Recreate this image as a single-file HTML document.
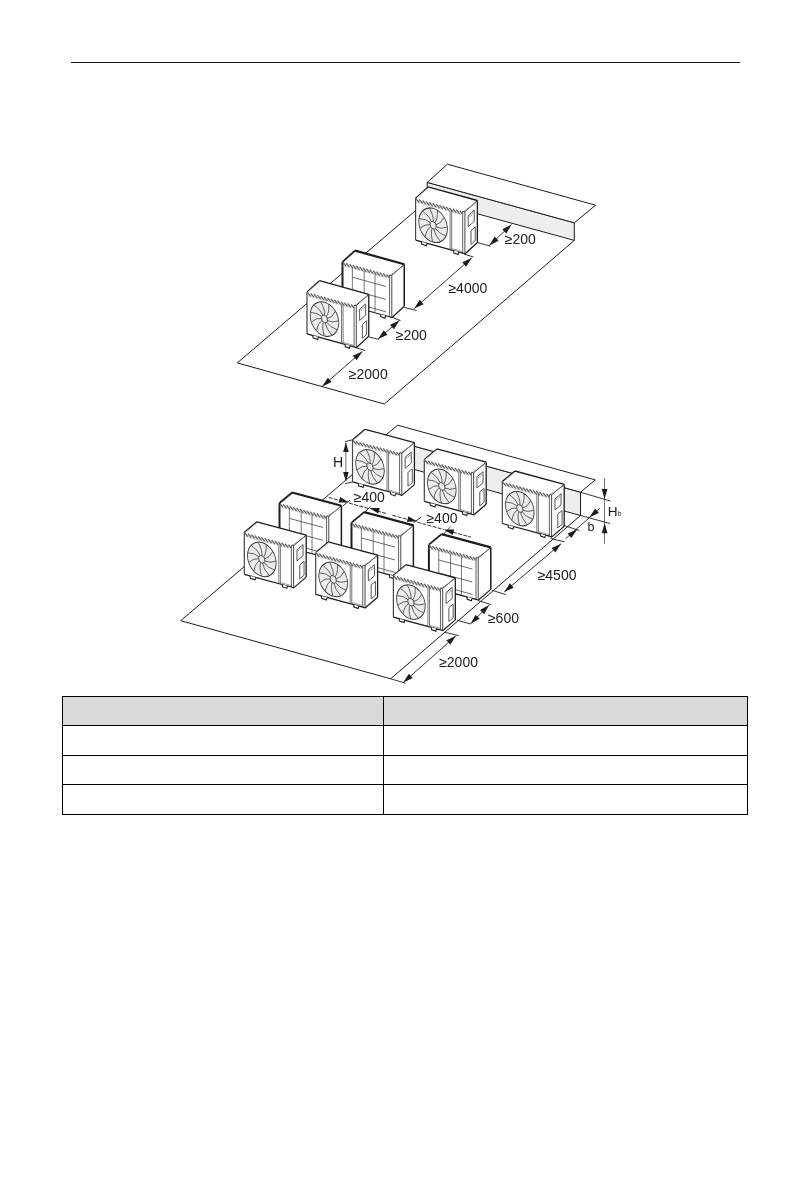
<!DOCTYPE html>
<html><head><meta charset="utf-8">
<style>
html,body{margin:0;padding:0;background:#fff;}
body{width:811px;height:1191px;position:relative;overflow:hidden;font-family:"Liberation Sans",sans-serif;}
.hr{position:absolute;left:71px;top:62px;width:669px;height:1px;background:#111;}
svg{position:absolute;left:0;top:0;will-change:transform;}
table{position:absolute;left:62px;top:696px;border-collapse:collapse;}
td{border:1.3px solid #000;padding:0;height:28px;}
</style></head><body>
<div class="hr"></div>
<svg width="811" height="1191" viewBox="0 0 811 1191" font-family="Liberation Sans, sans-serif">
<polygon points="427.2,182.4 574.3,222.8 574.3,240.4 427.2,200" fill="#eeeeee" stroke="#1c1c1c" stroke-width="1.0" stroke-linejoin="round" />
<polygon points="427.2,182.4 447.4,164.2 595.6,205.2 574.3,222.8" fill="#fff" stroke="#1c1c1c" stroke-width="1.0" stroke-linejoin="round" />
<polyline points="427.2,200.7 237.3,362.9 384.3,404 574.3,240.4" fill="none" stroke="#1c1c1c" stroke-width="1.0" stroke-linejoin="round" />
<polygon points="415.6,240.1 415.6,198.1 428.05,186.9 477.35,200.5 477.35,242.5 464.9,253.7" fill="#fff" stroke="none" stroke-width="0" stroke-linejoin="round" />
<line x1="418.08" y1="197.32" x2="428.41" y2="188.02" stroke="#aaa" stroke-width="0.8" stroke-dasharray="0.8 0.7"/>
<polyline points="415.6,198.1 428.05,186.9" fill="none" stroke="#1c1c1c" stroke-width="1.15" stroke-linejoin="round" />
<polyline points="428.05,186.9 477.35,200.5" fill="none" stroke="#1c1c1c" stroke-width="1.35" stroke-linejoin="round" />
<polyline points="477.35,200.5 477.35,242.5" fill="none" stroke="#1c1c1c" stroke-width="1.3" stroke-linejoin="round" />
<line x1="415.6" y1="198.1" x2="415.6" y2="240.1" stroke="#444" stroke-width="1.2" />
<polyline points="462.68,211.39 464.9,211.7 477.35,200.5" fill="none" stroke="#333" stroke-width="1.0" stroke-linejoin="round" />
<line x1="462.19" y1="212.25" x2="476.73" y2="201.96" stroke="#888" stroke-width="0.7" />
<line x1="462.68" y1="211.39" x2="462.68" y2="253.09" stroke="#444" stroke-width="0.85" />
<line x1="464.9" y1="211.7" x2="464.9" y2="253.7" stroke="#333" stroke-width="0.9" />
<polyline points="415.6,240.1 462.68,253.09 464.9,254 477.35,242.5" fill="none" stroke="#1c1c1c" stroke-width="1.2" stroke-linejoin="round" />
<line x1="415.94" y1="198.59" x2="419.34" y2="202.73" stroke="#666" stroke-width="1.4" />
<line x1="419.3" y1="199.52" x2="422.7" y2="203.66" stroke="#666" stroke-width="1.4" />
<line x1="422.66" y1="200.45" x2="426.06" y2="204.59" stroke="#666" stroke-width="1.4" />
<line x1="426.03" y1="201.38" x2="429.43" y2="205.51" stroke="#666" stroke-width="1.4" />
<line x1="429.39" y1="202.3" x2="432.79" y2="206.44" stroke="#666" stroke-width="1.4" />
<line x1="432.75" y1="203.23" x2="436.15" y2="207.37" stroke="#666" stroke-width="1.4" />
<line x1="436.11" y1="204.16" x2="439.51" y2="208.3" stroke="#666" stroke-width="1.4" />
<line x1="439.48" y1="205.09" x2="442.88" y2="209.22" stroke="#666" stroke-width="1.4" />
<line x1="442.84" y1="206.01" x2="446.24" y2="210.15" stroke="#666" stroke-width="1.4" />
<line x1="446.2" y1="206.94" x2="449.6" y2="211.08" stroke="#666" stroke-width="1.4" />
<line x1="449.57" y1="207.87" x2="452.97" y2="212.01" stroke="#666" stroke-width="1.4" />
<line x1="452.93" y1="208.8" x2="456.33" y2="212.94" stroke="#666" stroke-width="1.4" />
<line x1="456.29" y1="209.73" x2="459.69" y2="213.86" stroke="#666" stroke-width="1.4" />
<line x1="459.65" y1="210.65" x2="462.68" y2="214.34" stroke="#666" stroke-width="1.4" />
<line x1="415.6" y1="201.9" x2="462.68" y2="214.89" stroke="#bbb" stroke-width="0.5" />
<line x1="450.11" y1="210.62" x2="450.11" y2="249.62" stroke="#555" stroke-width="0.8" />
<line x1="451.69" y1="211.06" x2="451.69" y2="250.06" stroke="#555" stroke-width="0.8" />
<line x1="451.69" y1="248.56" x2="462.68" y2="251.59" stroke="#777" stroke-width="0.7" />
<g transform="matrix(1,0.2759,0,1.18,433.1,225.23)"><circle r="14.3" fill="#ececec" stroke="#3a3a3a" stroke-width="0.85"/><path d="M3.04,0.62 Q7.81,1.75 14,-1.69" fill="none" stroke="#444" stroke-width="0.72"/><path d="M2.22,2.16 Q5.62,5.69 12.69,6.15" fill="none" stroke="#444" stroke-width="0.72"/><path d="M0.7,3.02 Q1.66,7.83 7.35,12.03" fill="none" stroke="#444" stroke-width="0.72"/><path d="M-1.04,2.92 Q-2.84,7.48 -0.32,14.1" fill="none" stroke="#444" stroke-width="0.72"/><path d="M-2.46,1.89 Q-6.43,4.76 -7.89,11.68" fill="none" stroke="#444" stroke-width="0.72"/><path d="M-3.09,0.27 Q-7.98,0.52 -12.96,5.56" fill="none" stroke="#444" stroke-width="0.72"/><path d="M-2.74,-1.45 Q-7,-3.87 -13.91,-2.32" fill="none" stroke="#444" stroke-width="0.72"/><path d="M-1.52,-2.7 Q-3.79,-7.04 -10.44,-9.47" fill="none" stroke="#444" stroke-width="0.72"/><path d="M0.18,-3.09 Q0.62,-7.98 -3.66,-13.62" fill="none" stroke="#444" stroke-width="0.72"/><path d="M1.82,-2.51 Q4.83,-6.38 4.28,-13.43" fill="none" stroke="#444" stroke-width="0.72"/><path d="M2.89,-1.12 Q7.51,-2.75 10.86,-8.99" fill="none" stroke="#444" stroke-width="0.72"/><circle r="3.1" fill="#ececec" stroke="#3a3a3a" stroke-width="0.8"/></g>
<polygon points="468.2,215.63 474.24,210.2 474.24,221.3 468.2,226.73" fill="none" stroke="#444" stroke-width="0.9" stroke-linejoin="round" />
<line x1="469.38" y1="215.47" x2="470.13" y2="217" stroke="#666" stroke-width="0.7" />
<line x1="470.88" y1="214.12" x2="471.62" y2="215.65" stroke="#666" stroke-width="0.7" />
<line x1="472.37" y1="212.78" x2="473.12" y2="214.31" stroke="#666" stroke-width="0.7" />
<polygon points="471,230.61 475.23,226.8 475.23,240.7 471,244.51" fill="none" stroke="#444" stroke-width="0.9" stroke-linejoin="round" />
<polyline points="421.27,241.66 421.67,244.06 426.29,245.7 426.69,244.2 427.19,243.3" fill="#fff" stroke="#1c1c1c" stroke-width="1.1" stroke-linejoin="miter"/>
<polyline points="453.56,250.57 453.96,252.97 458.08,254.47 458.48,252.97 458.98,252.07" fill="#fff" stroke="#1c1c1c" stroke-width="1.1" stroke-linejoin="miter"/>
<polygon points="342.5,303.8 342.5,261.8 354.95,250.6 404.25,264.2 404.25,306.2 391.8,317.4" fill="#fff" stroke="none" stroke-width="0" stroke-linejoin="round" />
<line x1="344.98" y1="261.02" x2="355.31" y2="251.72" stroke="#aaa" stroke-width="0.8" stroke-dasharray="0.8 0.7"/>
<polyline points="342.5,261.8 354.95,250.6" fill="none" stroke="#1c1c1c" stroke-width="1.7" stroke-linejoin="round" />
<polyline points="354.95,250.6 404.25,264.2" fill="none" stroke="#1c1c1c" stroke-width="2.2" stroke-linejoin="round" />
<polyline points="404.25,264.2 404.25,306.2" fill="none" stroke="#1c1c1c" stroke-width="1.5" stroke-linejoin="round" />
<line x1="342.5" y1="261.8" x2="342.5" y2="303.8" stroke="#1c1c1c" stroke-width="2.0" />
<polyline points="389.58,275.09 391.8,275.4 404.25,264.2" fill="none" stroke="#333" stroke-width="1.0" stroke-linejoin="round" />
<line x1="389.09" y1="275.95" x2="403.63" y2="265.66" stroke="#888" stroke-width="0.7" />
<line x1="389.58" y1="275.09" x2="389.58" y2="316.79" stroke="#444" stroke-width="0.85" />
<line x1="391.8" y1="275.4" x2="391.8" y2="317.4" stroke="#333" stroke-width="0.9" />
<polyline points="342.5,303.8 389.58,316.79 391.8,317.7 404.25,306.2" fill="none" stroke="#1c1c1c" stroke-width="1.2" stroke-linejoin="round" />
<line x1="342.84" y1="262.29" x2="346.24" y2="266.43" stroke="#666" stroke-width="1.4" />
<line x1="346.2" y1="263.22" x2="349.6" y2="267.36" stroke="#666" stroke-width="1.4" />
<line x1="349.56" y1="264.15" x2="352.96" y2="268.29" stroke="#666" stroke-width="1.4" />
<line x1="352.93" y1="265.08" x2="356.33" y2="269.21" stroke="#666" stroke-width="1.4" />
<line x1="356.29" y1="266" x2="359.69" y2="270.14" stroke="#666" stroke-width="1.4" />
<line x1="359.65" y1="266.93" x2="363.05" y2="271.07" stroke="#666" stroke-width="1.4" />
<line x1="363.01" y1="267.86" x2="366.41" y2="272" stroke="#666" stroke-width="1.4" />
<line x1="366.38" y1="268.79" x2="369.78" y2="272.92" stroke="#666" stroke-width="1.4" />
<line x1="369.74" y1="269.71" x2="373.14" y2="273.85" stroke="#666" stroke-width="1.4" />
<line x1="373.1" y1="270.64" x2="376.5" y2="274.78" stroke="#666" stroke-width="1.4" />
<line x1="376.47" y1="271.57" x2="379.87" y2="275.71" stroke="#666" stroke-width="1.4" />
<line x1="379.83" y1="272.5" x2="383.23" y2="276.64" stroke="#666" stroke-width="1.4" />
<line x1="383.19" y1="273.43" x2="386.59" y2="277.56" stroke="#666" stroke-width="1.4" />
<line x1="386.55" y1="274.35" x2="389.58" y2="278.04" stroke="#666" stroke-width="1.4" />
<line x1="342.5" y1="265.6" x2="389.58" y2="278.59" stroke="#bbb" stroke-width="0.5" />
<line x1="352.36" y1="267.52" x2="352.36" y2="306.52" stroke="#555" stroke-width="0.8" />
<line x1="364.19" y1="270.78" x2="364.19" y2="309.78" stroke="#555" stroke-width="0.8" />
<line x1="375.04" y1="273.78" x2="375.04" y2="312.78" stroke="#555" stroke-width="0.8" />
<line x1="352.36" y1="277.22" x2="385.88" y2="286.47" stroke="#444" stroke-width="0.8" />
<line x1="352.36" y1="290.12" x2="385.88" y2="299.37" stroke="#444" stroke-width="0.8" />
<line x1="352.36" y1="302.52" x2="385.88" y2="311.77" stroke="#444" stroke-width="0.8" />
<polyline points="348.17,305.36 348.57,307.76 353.19,309.4 353.59,307.9 354.09,307" fill="#fff" stroke="#1c1c1c" stroke-width="1.1" stroke-linejoin="miter"/>
<polyline points="380.46,314.27 380.86,316.67 384.98,318.17 385.38,316.67 385.88,315.77" fill="#fff" stroke="#1c1c1c" stroke-width="1.1" stroke-linejoin="miter"/>
<polygon points="307,333.9 307,291.9 319.45,280.7 368.75,294.3 368.75,336.3 356.3,347.5" fill="#fff" stroke="none" stroke-width="0" stroke-linejoin="round" />
<line x1="309.48" y1="291.12" x2="319.81" y2="281.82" stroke="#aaa" stroke-width="0.8" stroke-dasharray="0.8 0.7"/>
<polyline points="307,291.9 319.45,280.7" fill="none" stroke="#1c1c1c" stroke-width="1.15" stroke-linejoin="round" />
<polyline points="319.45,280.7 368.75,294.3" fill="none" stroke="#1c1c1c" stroke-width="1.35" stroke-linejoin="round" />
<polyline points="368.75,294.3 368.75,336.3" fill="none" stroke="#1c1c1c" stroke-width="1.3" stroke-linejoin="round" />
<line x1="307" y1="291.9" x2="307" y2="333.9" stroke="#444" stroke-width="1.2" />
<polyline points="354.08,305.19 356.3,305.5 368.75,294.3" fill="none" stroke="#333" stroke-width="1.0" stroke-linejoin="round" />
<line x1="353.59" y1="306.05" x2="368.13" y2="295.76" stroke="#888" stroke-width="0.7" />
<line x1="354.08" y1="305.19" x2="354.08" y2="346.89" stroke="#444" stroke-width="0.85" />
<line x1="356.3" y1="305.5" x2="356.3" y2="347.5" stroke="#333" stroke-width="0.9" />
<polyline points="307,333.9 354.08,346.89 356.3,347.8 368.75,336.3" fill="none" stroke="#1c1c1c" stroke-width="1.2" stroke-linejoin="round" />
<line x1="307.34" y1="292.39" x2="310.74" y2="296.53" stroke="#666" stroke-width="1.4" />
<line x1="310.7" y1="293.32" x2="314.1" y2="297.46" stroke="#666" stroke-width="1.4" />
<line x1="314.06" y1="294.25" x2="317.46" y2="298.39" stroke="#666" stroke-width="1.4" />
<line x1="317.43" y1="295.18" x2="320.83" y2="299.31" stroke="#666" stroke-width="1.4" />
<line x1="320.79" y1="296.1" x2="324.19" y2="300.24" stroke="#666" stroke-width="1.4" />
<line x1="324.15" y1="297.03" x2="327.55" y2="301.17" stroke="#666" stroke-width="1.4" />
<line x1="327.51" y1="297.96" x2="330.91" y2="302.1" stroke="#666" stroke-width="1.4" />
<line x1="330.88" y1="298.89" x2="334.28" y2="303.02" stroke="#666" stroke-width="1.4" />
<line x1="334.24" y1="299.81" x2="337.64" y2="303.95" stroke="#666" stroke-width="1.4" />
<line x1="337.6" y1="300.74" x2="341" y2="304.88" stroke="#666" stroke-width="1.4" />
<line x1="340.97" y1="301.67" x2="344.37" y2="305.81" stroke="#666" stroke-width="1.4" />
<line x1="344.33" y1="302.6" x2="347.73" y2="306.74" stroke="#666" stroke-width="1.4" />
<line x1="347.69" y1="303.53" x2="351.09" y2="307.66" stroke="#666" stroke-width="1.4" />
<line x1="351.05" y1="304.45" x2="354.08" y2="308.14" stroke="#666" stroke-width="1.4" />
<line x1="307" y1="295.7" x2="354.08" y2="308.69" stroke="#bbb" stroke-width="0.5" />
<line x1="341.51" y1="304.42" x2="341.51" y2="343.42" stroke="#555" stroke-width="0.8" />
<line x1="343.09" y1="304.86" x2="343.09" y2="343.86" stroke="#555" stroke-width="0.8" />
<line x1="343.09" y1="342.36" x2="354.08" y2="345.39" stroke="#777" stroke-width="0.7" />
<g transform="matrix(1,0.2759,0,1.18,324.5,319.03)"><circle r="14.3" fill="#ececec" stroke="#3a3a3a" stroke-width="0.85"/><path d="M3.04,0.62 Q7.81,1.75 14,-1.69" fill="none" stroke="#444" stroke-width="0.72"/><path d="M2.22,2.16 Q5.62,5.69 12.69,6.15" fill="none" stroke="#444" stroke-width="0.72"/><path d="M0.7,3.02 Q1.66,7.83 7.35,12.03" fill="none" stroke="#444" stroke-width="0.72"/><path d="M-1.04,2.92 Q-2.84,7.48 -0.32,14.1" fill="none" stroke="#444" stroke-width="0.72"/><path d="M-2.46,1.89 Q-6.43,4.76 -7.89,11.68" fill="none" stroke="#444" stroke-width="0.72"/><path d="M-3.09,0.27 Q-7.98,0.52 -12.96,5.56" fill="none" stroke="#444" stroke-width="0.72"/><path d="M-2.74,-1.45 Q-7,-3.87 -13.91,-2.32" fill="none" stroke="#444" stroke-width="0.72"/><path d="M-1.52,-2.7 Q-3.79,-7.04 -10.44,-9.47" fill="none" stroke="#444" stroke-width="0.72"/><path d="M0.18,-3.09 Q0.62,-7.98 -3.66,-13.62" fill="none" stroke="#444" stroke-width="0.72"/><path d="M1.82,-2.51 Q4.83,-6.38 4.28,-13.43" fill="none" stroke="#444" stroke-width="0.72"/><path d="M2.89,-1.12 Q7.51,-2.75 10.86,-8.99" fill="none" stroke="#444" stroke-width="0.72"/><circle r="3.1" fill="#ececec" stroke="#3a3a3a" stroke-width="0.8"/></g>
<polygon points="359.6,309.43 365.64,304 365.64,315.1 359.6,320.53" fill="none" stroke="#444" stroke-width="0.9" stroke-linejoin="round" />
<line x1="360.78" y1="309.27" x2="361.53" y2="310.8" stroke="#666" stroke-width="0.7" />
<line x1="362.28" y1="307.92" x2="363.02" y2="309.45" stroke="#666" stroke-width="0.7" />
<line x1="363.77" y1="306.58" x2="364.52" y2="308.11" stroke="#666" stroke-width="0.7" />
<polygon points="362.4,324.41 366.63,320.6 366.63,334.5 362.4,338.31" fill="none" stroke="#444" stroke-width="0.9" stroke-linejoin="round" />
<polyline points="312.67,335.46 313.07,337.86 317.69,339.5 318.09,338 318.59,337.1" fill="#fff" stroke="#1c1c1c" stroke-width="1.1" stroke-linejoin="miter"/>
<polyline points="344.96,344.37 345.36,346.77 349.48,348.27 349.88,346.77 350.38,345.87" fill="#fff" stroke="#1c1c1c" stroke-width="1.1" stroke-linejoin="miter"/>
<line x1="477.5" y1="242.6" x2="490.5" y2="246.2" stroke="#1c1c1c" stroke-width="0.9" />
<line x1="489.3" y1="245.4" x2="511.6" y2="224.5" stroke="#1c1c1c" stroke-width="0.9" />
<polygon points="489.3,245.4 494.61,236.45 498.58,240.68" fill="#1c1c1c"/>
<polygon points="511.6,224.5 506.29,233.45 502.32,229.22" fill="#1c1c1c"/>
<line x1="404.4" y1="307.4" x2="416.5" y2="310.5" stroke="#1c1c1c" stroke-width="0.9" />
<line x1="464.2" y1="254.2" x2="473.5" y2="257" stroke="#1c1c1c" stroke-width="0.9" />
<line x1="414.2" y1="308.6" x2="471.7" y2="257.9" stroke="#1c1c1c" stroke-width="0.9" />
<polygon points="414.2,308.6 419.78,299.81 423.62,304.16" fill="#1c1c1c"/>
<polygon points="471.7,257.9 466.12,266.69 462.28,262.34" fill="#1c1c1c"/>
<line x1="392" y1="317.2" x2="400.5" y2="320.6" stroke="#1c1c1c" stroke-width="0.9" />
<line x1="368.9" y1="336.9" x2="378.5" y2="339.4" stroke="#1c1c1c" stroke-width="0.9" />
<line x1="378.1" y1="339.1" x2="399.5" y2="320.4" stroke="#1c1c1c" stroke-width="0.9" />
<polygon points="378.1,339.1 383.72,330.34 387.54,334.7" fill="#1c1c1c"/>
<polygon points="399.5,320.4 393.88,329.16 390.06,324.8" fill="#1c1c1c"/>
<line x1="355.6" y1="347.6" x2="365.4" y2="350.6" stroke="#1c1c1c" stroke-width="0.9" />
<line x1="322.2" y1="386.4" x2="362.3" y2="351.4" stroke="#1c1c1c" stroke-width="0.9" />
<polygon points="322.2,386.4 327.83,377.64 331.64,382.01" fill="#1c1c1c"/>
<polygon points="362.3,351.4 356.67,360.16 352.86,355.79" fill="#1c1c1c"/>
<text x="504.75" y="244.1" font-size="14.0" text-anchor="start" fill="#1c1c1c">≥200</text>
<text x="448.45" y="292.8" font-size="14.0" text-anchor="start" fill="#1c1c1c">≥4000</text>
<text x="395.75" y="340" font-size="14.0" text-anchor="start" fill="#1c1c1c">≥200</text>
<text x="348.85" y="378.8" font-size="14.0" text-anchor="start" fill="#1c1c1c">≥2000</text>
<polygon points="382.8,437.5 580.5,492.2 580.5,515.5 382.8,460.8" fill="#eeeeee" stroke="#1c1c1c" stroke-width="1.0" stroke-linejoin="round" />
<polygon points="382.8,437.5 397.7,425.2 595.3,479.9 580.5,492.2" fill="#fff" stroke="#1c1c1c" stroke-width="1.0" stroke-linejoin="round" />
<polyline points="383,448.5 180.7,620.7 390.7,678.8 580.5,515.5" fill="none" stroke="#1c1c1c" stroke-width="1.0" stroke-linejoin="round" />
<polygon points="352.5,481.8 352.5,439.8 365.1,429.3 414.4,442.6 414.4,484.6 401.8,495.1" fill="#fff" stroke="none" stroke-width="0" stroke-linejoin="round" />
<line x1="354.99" y1="439.08" x2="365.45" y2="430.37" stroke="#aaa" stroke-width="0.8" stroke-dasharray="0.8 0.7"/>
<polyline points="352.5,439.8 365.1,429.3" fill="none" stroke="#1c1c1c" stroke-width="1.15" stroke-linejoin="round" />
<polyline points="365.1,429.3 414.4,442.6" fill="none" stroke="#1c1c1c" stroke-width="1.35" stroke-linejoin="round" />
<polyline points="414.4,442.6 414.4,484.6" fill="none" stroke="#1c1c1c" stroke-width="1.3" stroke-linejoin="round" />
<line x1="352.5" y1="439.8" x2="352.5" y2="481.8" stroke="#444" stroke-width="1.2" />
<polyline points="399.58,452.8 401.8,453.1 414.4,442.6" fill="none" stroke="#333" stroke-width="1.0" stroke-linejoin="round" />
<line x1="399.09" y1="453.67" x2="413.77" y2="444.02" stroke="#888" stroke-width="0.7" />
<line x1="399.58" y1="452.8" x2="399.58" y2="494.5" stroke="#444" stroke-width="0.85" />
<line x1="401.8" y1="453.1" x2="401.8" y2="495.1" stroke="#333" stroke-width="0.9" />
<polyline points="352.5,481.8 399.58,494.5 401.8,495.4 414.4,484.6" fill="none" stroke="#1c1c1c" stroke-width="1.2" stroke-linejoin="round" />
<line x1="352.84" y1="440.29" x2="356.24" y2="444.41" stroke="#666" stroke-width="1.4" />
<line x1="356.2" y1="441.2" x2="359.6" y2="445.32" stroke="#666" stroke-width="1.4" />
<line x1="359.56" y1="442.11" x2="362.96" y2="446.22" stroke="#666" stroke-width="1.4" />
<line x1="362.93" y1="443.01" x2="366.33" y2="447.13" stroke="#666" stroke-width="1.4" />
<line x1="366.29" y1="443.92" x2="369.69" y2="448.04" stroke="#666" stroke-width="1.4" />
<line x1="369.65" y1="444.83" x2="373.05" y2="448.94" stroke="#666" stroke-width="1.4" />
<line x1="373.01" y1="445.73" x2="376.41" y2="449.85" stroke="#666" stroke-width="1.4" />
<line x1="376.38" y1="446.64" x2="379.78" y2="450.76" stroke="#666" stroke-width="1.4" />
<line x1="379.74" y1="447.55" x2="383.14" y2="451.67" stroke="#666" stroke-width="1.4" />
<line x1="383.1" y1="448.46" x2="386.5" y2="452.57" stroke="#666" stroke-width="1.4" />
<line x1="386.47" y1="449.36" x2="389.87" y2="453.48" stroke="#666" stroke-width="1.4" />
<line x1="389.83" y1="450.27" x2="393.23" y2="454.39" stroke="#666" stroke-width="1.4" />
<line x1="393.19" y1="451.18" x2="396.59" y2="455.29" stroke="#666" stroke-width="1.4" />
<line x1="396.55" y1="452.08" x2="399.58" y2="455.75" stroke="#666" stroke-width="1.4" />
<line x1="352.5" y1="443.6" x2="399.58" y2="456.3" stroke="#bbb" stroke-width="0.5" />
<line x1="387.01" y1="452.11" x2="387.01" y2="491.11" stroke="#555" stroke-width="0.8" />
<line x1="388.59" y1="452.54" x2="388.59" y2="491.54" stroke="#555" stroke-width="0.8" />
<line x1="388.59" y1="490.04" x2="399.58" y2="493" stroke="#777" stroke-width="0.7" />
<g transform="matrix(1,0.2698,0,1.18,370,466.82)"><circle r="14.3" fill="#ececec" stroke="#3a3a3a" stroke-width="0.85"/><path d="M3.04,0.62 Q7.81,1.75 14,-1.69" fill="none" stroke="#444" stroke-width="0.72"/><path d="M2.22,2.16 Q5.62,5.69 12.69,6.15" fill="none" stroke="#444" stroke-width="0.72"/><path d="M0.7,3.02 Q1.66,7.83 7.35,12.03" fill="none" stroke="#444" stroke-width="0.72"/><path d="M-1.04,2.92 Q-2.84,7.48 -0.32,14.1" fill="none" stroke="#444" stroke-width="0.72"/><path d="M-2.46,1.89 Q-6.43,4.76 -7.89,11.68" fill="none" stroke="#444" stroke-width="0.72"/><path d="M-3.09,0.27 Q-7.98,0.52 -12.96,5.56" fill="none" stroke="#444" stroke-width="0.72"/><path d="M-2.74,-1.45 Q-7,-3.87 -13.91,-2.32" fill="none" stroke="#444" stroke-width="0.72"/><path d="M-1.52,-2.7 Q-3.79,-7.04 -10.44,-9.47" fill="none" stroke="#444" stroke-width="0.72"/><path d="M0.18,-3.09 Q0.62,-7.98 -3.66,-13.62" fill="none" stroke="#444" stroke-width="0.72"/><path d="M1.82,-2.51 Q4.83,-6.38 4.28,-13.43" fill="none" stroke="#444" stroke-width="0.72"/><path d="M2.89,-1.12 Q7.51,-2.75 10.86,-8.99" fill="none" stroke="#444" stroke-width="0.72"/><circle r="3.1" fill="#ececec" stroke="#3a3a3a" stroke-width="0.8"/></g>
<polygon points="405.14,457.22 411.25,452.12 411.25,463.23 405.14,468.32" fill="none" stroke="#444" stroke-width="0.9" stroke-linejoin="round" />
<line x1="406.34" y1="457.12" x2="407.09" y2="458.69" stroke="#666" stroke-width="0.7" />
<line x1="407.85" y1="455.86" x2="408.6" y2="457.43" stroke="#666" stroke-width="0.7" />
<line x1="409.36" y1="454.6" x2="410.12" y2="456.17" stroke="#666" stroke-width="0.7" />
<polygon points="407.97,472.36 412.26,468.79 412.26,482.69 407.97,486.26" fill="none" stroke="#444" stroke-width="0.9" stroke-linejoin="round" />
<polyline points="358.17,483.33 358.57,485.73 363.19,487.33 363.59,485.83 364.09,484.93" fill="#fff" stroke="#1c1c1c" stroke-width="1.1" stroke-linejoin="miter"/>
<polyline points="390.46,492.04 390.86,494.44 394.98,495.9 395.38,494.4 395.88,493.5" fill="#fff" stroke="#1c1c1c" stroke-width="1.1" stroke-linejoin="miter"/>
<polygon points="424.3,501.4 424.3,459.4 436.9,448.9 486.2,462.2 486.2,504.2 473.6,514.7" fill="#fff" stroke="none" stroke-width="0" stroke-linejoin="round" />
<line x1="426.79" y1="458.68" x2="437.25" y2="449.97" stroke="#aaa" stroke-width="0.8" stroke-dasharray="0.8 0.7"/>
<polyline points="424.3,459.4 436.9,448.9" fill="none" stroke="#1c1c1c" stroke-width="1.15" stroke-linejoin="round" />
<polyline points="436.9,448.9 486.2,462.2" fill="none" stroke="#1c1c1c" stroke-width="1.35" stroke-linejoin="round" />
<polyline points="486.2,462.2 486.2,504.2" fill="none" stroke="#1c1c1c" stroke-width="1.3" stroke-linejoin="round" />
<line x1="424.3" y1="459.4" x2="424.3" y2="501.4" stroke="#444" stroke-width="1.2" />
<polyline points="471.38,472.4 473.6,472.7 486.2,462.2" fill="none" stroke="#333" stroke-width="1.0" stroke-linejoin="round" />
<line x1="470.89" y1="473.27" x2="485.57" y2="463.62" stroke="#888" stroke-width="0.7" />
<line x1="471.38" y1="472.4" x2="471.38" y2="514.1" stroke="#444" stroke-width="0.85" />
<line x1="473.6" y1="472.7" x2="473.6" y2="514.7" stroke="#333" stroke-width="0.9" />
<polyline points="424.3,501.4 471.38,514.1 473.6,515 486.2,504.2" fill="none" stroke="#1c1c1c" stroke-width="1.2" stroke-linejoin="round" />
<line x1="424.64" y1="459.89" x2="428.04" y2="464.01" stroke="#666" stroke-width="1.4" />
<line x1="428" y1="460.8" x2="431.4" y2="464.92" stroke="#666" stroke-width="1.4" />
<line x1="431.36" y1="461.71" x2="434.76" y2="465.82" stroke="#666" stroke-width="1.4" />
<line x1="434.73" y1="462.61" x2="438.13" y2="466.73" stroke="#666" stroke-width="1.4" />
<line x1="438.09" y1="463.52" x2="441.49" y2="467.64" stroke="#666" stroke-width="1.4" />
<line x1="441.45" y1="464.43" x2="444.85" y2="468.54" stroke="#666" stroke-width="1.4" />
<line x1="444.81" y1="465.33" x2="448.21" y2="469.45" stroke="#666" stroke-width="1.4" />
<line x1="448.18" y1="466.24" x2="451.58" y2="470.36" stroke="#666" stroke-width="1.4" />
<line x1="451.54" y1="467.15" x2="454.94" y2="471.27" stroke="#666" stroke-width="1.4" />
<line x1="454.9" y1="468.06" x2="458.3" y2="472.17" stroke="#666" stroke-width="1.4" />
<line x1="458.27" y1="468.96" x2="461.67" y2="473.08" stroke="#666" stroke-width="1.4" />
<line x1="461.63" y1="469.87" x2="465.03" y2="473.99" stroke="#666" stroke-width="1.4" />
<line x1="464.99" y1="470.78" x2="468.39" y2="474.89" stroke="#666" stroke-width="1.4" />
<line x1="468.35" y1="471.68" x2="471.38" y2="475.35" stroke="#666" stroke-width="1.4" />
<line x1="424.3" y1="463.2" x2="471.38" y2="475.9" stroke="#bbb" stroke-width="0.5" />
<line x1="458.81" y1="471.71" x2="458.81" y2="510.71" stroke="#555" stroke-width="0.8" />
<line x1="460.39" y1="472.14" x2="460.39" y2="511.14" stroke="#555" stroke-width="0.8" />
<line x1="460.39" y1="509.64" x2="471.38" y2="512.6" stroke="#777" stroke-width="0.7" />
<g transform="matrix(1,0.2698,0,1.18,441.8,486.42)"><circle r="14.3" fill="#ececec" stroke="#3a3a3a" stroke-width="0.85"/><path d="M3.04,0.62 Q7.81,1.75 14,-1.69" fill="none" stroke="#444" stroke-width="0.72"/><path d="M2.22,2.16 Q5.62,5.69 12.69,6.15" fill="none" stroke="#444" stroke-width="0.72"/><path d="M0.7,3.02 Q1.66,7.83 7.35,12.03" fill="none" stroke="#444" stroke-width="0.72"/><path d="M-1.04,2.92 Q-2.84,7.48 -0.32,14.1" fill="none" stroke="#444" stroke-width="0.72"/><path d="M-2.46,1.89 Q-6.43,4.76 -7.89,11.68" fill="none" stroke="#444" stroke-width="0.72"/><path d="M-3.09,0.27 Q-7.98,0.52 -12.96,5.56" fill="none" stroke="#444" stroke-width="0.72"/><path d="M-2.74,-1.45 Q-7,-3.87 -13.91,-2.32" fill="none" stroke="#444" stroke-width="0.72"/><path d="M-1.52,-2.7 Q-3.79,-7.04 -10.44,-9.47" fill="none" stroke="#444" stroke-width="0.72"/><path d="M0.18,-3.09 Q0.62,-7.98 -3.66,-13.62" fill="none" stroke="#444" stroke-width="0.72"/><path d="M1.82,-2.51 Q4.83,-6.38 4.28,-13.43" fill="none" stroke="#444" stroke-width="0.72"/><path d="M2.89,-1.12 Q7.51,-2.75 10.86,-8.99" fill="none" stroke="#444" stroke-width="0.72"/><circle r="3.1" fill="#ececec" stroke="#3a3a3a" stroke-width="0.8"/></g>
<polygon points="476.94,476.82 483.05,471.72 483.05,482.82 476.94,487.92" fill="none" stroke="#444" stroke-width="0.9" stroke-linejoin="round" />
<line x1="478.14" y1="476.72" x2="478.89" y2="478.29" stroke="#666" stroke-width="0.7" />
<line x1="479.65" y1="475.46" x2="480.4" y2="477.03" stroke="#666" stroke-width="0.7" />
<line x1="481.16" y1="474.2" x2="481.92" y2="475.77" stroke="#666" stroke-width="0.7" />
<polygon points="479.77,491.95 484.06,488.38 484.06,502.29 479.77,505.86" fill="none" stroke="#444" stroke-width="0.9" stroke-linejoin="round" />
<polyline points="429.97,502.93 430.37,505.33 434.99,506.93 435.39,505.43 435.89,504.53" fill="#fff" stroke="#1c1c1c" stroke-width="1.1" stroke-linejoin="miter"/>
<polyline points="462.26,511.64 462.66,514.04 466.78,515.5 467.18,514 467.68,513.1" fill="#fff" stroke="#1c1c1c" stroke-width="1.1" stroke-linejoin="miter"/>
<polygon points="502.3,523.5 502.3,481.5 514.9,471 564.2,484.3 564.2,526.3 551.6,536.8" fill="#fff" stroke="none" stroke-width="0" stroke-linejoin="round" />
<line x1="504.79" y1="480.78" x2="515.25" y2="472.07" stroke="#aaa" stroke-width="0.8" stroke-dasharray="0.8 0.7"/>
<polyline points="502.3,481.5 514.9,471" fill="none" stroke="#1c1c1c" stroke-width="1.15" stroke-linejoin="round" />
<polyline points="514.9,471 564.2,484.3" fill="none" stroke="#1c1c1c" stroke-width="1.35" stroke-linejoin="round" />
<polyline points="564.2,484.3 564.2,526.3" fill="none" stroke="#1c1c1c" stroke-width="1.3" stroke-linejoin="round" />
<line x1="502.3" y1="481.5" x2="502.3" y2="523.5" stroke="#444" stroke-width="1.2" />
<polyline points="549.38,494.5 551.6,494.8 564.2,484.3" fill="none" stroke="#333" stroke-width="1.0" stroke-linejoin="round" />
<line x1="548.89" y1="495.37" x2="563.57" y2="485.72" stroke="#888" stroke-width="0.7" />
<line x1="549.38" y1="494.5" x2="549.38" y2="536.2" stroke="#444" stroke-width="0.85" />
<line x1="551.6" y1="494.8" x2="551.6" y2="536.8" stroke="#333" stroke-width="0.9" />
<polyline points="502.3,523.5 549.38,536.2 551.6,537.1 564.2,526.3" fill="none" stroke="#1c1c1c" stroke-width="1.2" stroke-linejoin="round" />
<line x1="502.64" y1="481.99" x2="506.04" y2="486.11" stroke="#666" stroke-width="1.4" />
<line x1="506" y1="482.9" x2="509.4" y2="487.02" stroke="#666" stroke-width="1.4" />
<line x1="509.36" y1="483.81" x2="512.76" y2="487.92" stroke="#666" stroke-width="1.4" />
<line x1="512.73" y1="484.71" x2="516.13" y2="488.83" stroke="#666" stroke-width="1.4" />
<line x1="516.09" y1="485.62" x2="519.49" y2="489.74" stroke="#666" stroke-width="1.4" />
<line x1="519.45" y1="486.53" x2="522.85" y2="490.64" stroke="#666" stroke-width="1.4" />
<line x1="522.81" y1="487.43" x2="526.21" y2="491.55" stroke="#666" stroke-width="1.4" />
<line x1="526.18" y1="488.34" x2="529.58" y2="492.46" stroke="#666" stroke-width="1.4" />
<line x1="529.54" y1="489.25" x2="532.94" y2="493.37" stroke="#666" stroke-width="1.4" />
<line x1="532.9" y1="490.16" x2="536.3" y2="494.27" stroke="#666" stroke-width="1.4" />
<line x1="536.27" y1="491.06" x2="539.67" y2="495.18" stroke="#666" stroke-width="1.4" />
<line x1="539.63" y1="491.97" x2="543.03" y2="496.09" stroke="#666" stroke-width="1.4" />
<line x1="542.99" y1="492.88" x2="546.39" y2="496.99" stroke="#666" stroke-width="1.4" />
<line x1="546.35" y1="493.78" x2="549.38" y2="497.45" stroke="#666" stroke-width="1.4" />
<line x1="502.3" y1="485.3" x2="549.38" y2="498" stroke="#bbb" stroke-width="0.5" />
<line x1="536.81" y1="493.81" x2="536.81" y2="532.81" stroke="#555" stroke-width="0.8" />
<line x1="538.39" y1="494.24" x2="538.39" y2="533.24" stroke="#555" stroke-width="0.8" />
<line x1="538.39" y1="531.74" x2="549.38" y2="534.7" stroke="#777" stroke-width="0.7" />
<g transform="matrix(1,0.2698,0,1.18,519.8,508.52)"><circle r="14.3" fill="#ececec" stroke="#3a3a3a" stroke-width="0.85"/><path d="M3.04,0.62 Q7.81,1.75 14,-1.69" fill="none" stroke="#444" stroke-width="0.72"/><path d="M2.22,2.16 Q5.62,5.69 12.69,6.15" fill="none" stroke="#444" stroke-width="0.72"/><path d="M0.7,3.02 Q1.66,7.83 7.35,12.03" fill="none" stroke="#444" stroke-width="0.72"/><path d="M-1.04,2.92 Q-2.84,7.48 -0.32,14.1" fill="none" stroke="#444" stroke-width="0.72"/><path d="M-2.46,1.89 Q-6.43,4.76 -7.89,11.68" fill="none" stroke="#444" stroke-width="0.72"/><path d="M-3.09,0.27 Q-7.98,0.52 -12.96,5.56" fill="none" stroke="#444" stroke-width="0.72"/><path d="M-2.74,-1.45 Q-7,-3.87 -13.91,-2.32" fill="none" stroke="#444" stroke-width="0.72"/><path d="M-1.52,-2.7 Q-3.79,-7.04 -10.44,-9.47" fill="none" stroke="#444" stroke-width="0.72"/><path d="M0.18,-3.09 Q0.62,-7.98 -3.66,-13.62" fill="none" stroke="#444" stroke-width="0.72"/><path d="M1.82,-2.51 Q4.83,-6.38 4.28,-13.43" fill="none" stroke="#444" stroke-width="0.72"/><path d="M2.89,-1.12 Q7.51,-2.75 10.86,-8.99" fill="none" stroke="#444" stroke-width="0.72"/><circle r="3.1" fill="#ececec" stroke="#3a3a3a" stroke-width="0.8"/></g>
<polygon points="554.94,498.92 561.05,493.82 561.05,504.93 554.94,510.02" fill="none" stroke="#444" stroke-width="0.9" stroke-linejoin="round" />
<line x1="556.14" y1="498.82" x2="556.89" y2="500.39" stroke="#666" stroke-width="0.7" />
<line x1="557.65" y1="497.56" x2="558.4" y2="499.13" stroke="#666" stroke-width="0.7" />
<line x1="559.16" y1="496.3" x2="559.92" y2="497.87" stroke="#666" stroke-width="0.7" />
<polygon points="557.77,514.06 562.06,510.49 562.06,524.38 557.77,527.96" fill="none" stroke="#444" stroke-width="0.9" stroke-linejoin="round" />
<polyline points="507.97,525.03 508.37,527.43 512.99,529.03 513.39,527.53 513.89,526.63" fill="#fff" stroke="#1c1c1c" stroke-width="1.1" stroke-linejoin="miter"/>
<polyline points="540.26,533.74 540.66,536.14 544.78,537.6 545.18,536.1 545.68,535.2" fill="#fff" stroke="#1c1c1c" stroke-width="1.1" stroke-linejoin="miter"/>
<polygon points="279.5,545 279.5,503 292.1,492.5 341.4,505.8 341.4,547.8 328.8,558.3" fill="#fff" stroke="none" stroke-width="0" stroke-linejoin="round" />
<line x1="281.99" y1="502.28" x2="292.45" y2="493.57" stroke="#aaa" stroke-width="0.8" stroke-dasharray="0.8 0.7"/>
<polyline points="279.5,503 292.1,492.5" fill="none" stroke="#1c1c1c" stroke-width="1.7" stroke-linejoin="round" />
<polyline points="292.1,492.5 341.4,505.8" fill="none" stroke="#1c1c1c" stroke-width="2.2" stroke-linejoin="round" />
<polyline points="341.4,505.8 341.4,547.8" fill="none" stroke="#1c1c1c" stroke-width="1.5" stroke-linejoin="round" />
<line x1="279.5" y1="503" x2="279.5" y2="545" stroke="#1c1c1c" stroke-width="2.0" />
<polyline points="326.58,516 328.8,516.3 341.4,505.8" fill="none" stroke="#333" stroke-width="1.0" stroke-linejoin="round" />
<line x1="326.09" y1="516.87" x2="340.77" y2="507.22" stroke="#888" stroke-width="0.7" />
<line x1="326.58" y1="516" x2="326.58" y2="557.7" stroke="#444" stroke-width="0.85" />
<line x1="328.8" y1="516.3" x2="328.8" y2="558.3" stroke="#333" stroke-width="0.9" />
<polyline points="279.5,545 326.58,557.7 328.8,558.6 341.4,547.8" fill="none" stroke="#1c1c1c" stroke-width="1.2" stroke-linejoin="round" />
<line x1="279.84" y1="503.49" x2="283.24" y2="507.61" stroke="#666" stroke-width="1.4" />
<line x1="283.2" y1="504.4" x2="286.6" y2="508.52" stroke="#666" stroke-width="1.4" />
<line x1="286.56" y1="505.31" x2="289.96" y2="509.42" stroke="#666" stroke-width="1.4" />
<line x1="289.93" y1="506.21" x2="293.33" y2="510.33" stroke="#666" stroke-width="1.4" />
<line x1="293.29" y1="507.12" x2="296.69" y2="511.24" stroke="#666" stroke-width="1.4" />
<line x1="296.65" y1="508.03" x2="300.05" y2="512.14" stroke="#666" stroke-width="1.4" />
<line x1="300.01" y1="508.93" x2="303.41" y2="513.05" stroke="#666" stroke-width="1.4" />
<line x1="303.38" y1="509.84" x2="306.78" y2="513.96" stroke="#666" stroke-width="1.4" />
<line x1="306.74" y1="510.75" x2="310.14" y2="514.87" stroke="#666" stroke-width="1.4" />
<line x1="310.1" y1="511.66" x2="313.5" y2="515.77" stroke="#666" stroke-width="1.4" />
<line x1="313.47" y1="512.56" x2="316.87" y2="516.68" stroke="#666" stroke-width="1.4" />
<line x1="316.83" y1="513.47" x2="320.23" y2="517.59" stroke="#666" stroke-width="1.4" />
<line x1="320.19" y1="514.38" x2="323.59" y2="518.49" stroke="#666" stroke-width="1.4" />
<line x1="323.55" y1="515.28" x2="326.58" y2="518.95" stroke="#666" stroke-width="1.4" />
<line x1="279.5" y1="506.8" x2="326.58" y2="519.5" stroke="#bbb" stroke-width="0.5" />
<line x1="289.36" y1="508.66" x2="289.36" y2="547.66" stroke="#555" stroke-width="0.8" />
<line x1="301.19" y1="511.85" x2="301.19" y2="550.85" stroke="#555" stroke-width="0.8" />
<line x1="312.04" y1="514.78" x2="312.04" y2="553.78" stroke="#555" stroke-width="0.8" />
<line x1="289.36" y1="518.36" x2="322.88" y2="527.4" stroke="#444" stroke-width="0.8" />
<line x1="289.36" y1="531.26" x2="322.88" y2="540.3" stroke="#444" stroke-width="0.8" />
<line x1="289.36" y1="543.66" x2="322.88" y2="552.7" stroke="#444" stroke-width="0.8" />
<polyline points="285.17,546.53 285.57,548.93 290.19,550.53 290.59,549.03 291.09,548.13" fill="#fff" stroke="#1c1c1c" stroke-width="1.1" stroke-linejoin="miter"/>
<polyline points="317.46,555.24 317.86,557.64 321.98,559.1 322.38,557.6 322.88,556.7" fill="#fff" stroke="#1c1c1c" stroke-width="1.1" stroke-linejoin="miter"/>
<polygon points="351.5,564.6 351.5,522.6 364.1,512.1 413.4,525.4 413.4,567.4 400.8,577.9" fill="#fff" stroke="none" stroke-width="0" stroke-linejoin="round" />
<line x1="353.99" y1="521.88" x2="364.45" y2="513.17" stroke="#aaa" stroke-width="0.8" stroke-dasharray="0.8 0.7"/>
<polyline points="351.5,522.6 364.1,512.1" fill="none" stroke="#1c1c1c" stroke-width="1.7" stroke-linejoin="round" />
<polyline points="364.1,512.1 413.4,525.4" fill="none" stroke="#1c1c1c" stroke-width="2.2" stroke-linejoin="round" />
<polyline points="413.4,525.4 413.4,567.4" fill="none" stroke="#1c1c1c" stroke-width="1.5" stroke-linejoin="round" />
<line x1="351.5" y1="522.6" x2="351.5" y2="564.6" stroke="#1c1c1c" stroke-width="2.0" />
<polyline points="398.58,535.6 400.8,535.9 413.4,525.4" fill="none" stroke="#333" stroke-width="1.0" stroke-linejoin="round" />
<line x1="398.09" y1="536.47" x2="412.77" y2="526.82" stroke="#888" stroke-width="0.7" />
<line x1="398.58" y1="535.6" x2="398.58" y2="577.3" stroke="#444" stroke-width="0.85" />
<line x1="400.8" y1="535.9" x2="400.8" y2="577.9" stroke="#333" stroke-width="0.9" />
<polyline points="351.5,564.6 398.58,577.3 400.8,578.2 413.4,567.4" fill="none" stroke="#1c1c1c" stroke-width="1.2" stroke-linejoin="round" />
<line x1="351.84" y1="523.09" x2="355.24" y2="527.21" stroke="#666" stroke-width="1.4" />
<line x1="355.2" y1="524" x2="358.6" y2="528.12" stroke="#666" stroke-width="1.4" />
<line x1="358.56" y1="524.91" x2="361.96" y2="529.02" stroke="#666" stroke-width="1.4" />
<line x1="361.93" y1="525.81" x2="365.33" y2="529.93" stroke="#666" stroke-width="1.4" />
<line x1="365.29" y1="526.72" x2="368.69" y2="530.84" stroke="#666" stroke-width="1.4" />
<line x1="368.65" y1="527.63" x2="372.05" y2="531.74" stroke="#666" stroke-width="1.4" />
<line x1="372.01" y1="528.53" x2="375.41" y2="532.65" stroke="#666" stroke-width="1.4" />
<line x1="375.38" y1="529.44" x2="378.78" y2="533.56" stroke="#666" stroke-width="1.4" />
<line x1="378.74" y1="530.35" x2="382.14" y2="534.47" stroke="#666" stroke-width="1.4" />
<line x1="382.1" y1="531.26" x2="385.5" y2="535.37" stroke="#666" stroke-width="1.4" />
<line x1="385.47" y1="532.16" x2="388.87" y2="536.28" stroke="#666" stroke-width="1.4" />
<line x1="388.83" y1="533.07" x2="392.23" y2="537.19" stroke="#666" stroke-width="1.4" />
<line x1="392.19" y1="533.98" x2="395.59" y2="538.09" stroke="#666" stroke-width="1.4" />
<line x1="395.55" y1="534.88" x2="398.58" y2="538.55" stroke="#666" stroke-width="1.4" />
<line x1="351.5" y1="526.4" x2="398.58" y2="539.1" stroke="#bbb" stroke-width="0.5" />
<line x1="361.36" y1="528.26" x2="361.36" y2="567.26" stroke="#555" stroke-width="0.8" />
<line x1="373.19" y1="531.45" x2="373.19" y2="570.45" stroke="#555" stroke-width="0.8" />
<line x1="384.04" y1="534.38" x2="384.04" y2="573.38" stroke="#555" stroke-width="0.8" />
<line x1="361.36" y1="537.96" x2="394.88" y2="547" stroke="#444" stroke-width="0.8" />
<line x1="361.36" y1="550.86" x2="394.88" y2="559.9" stroke="#444" stroke-width="0.8" />
<line x1="361.36" y1="563.26" x2="394.88" y2="572.3" stroke="#444" stroke-width="0.8" />
<polyline points="357.17,566.13 357.57,568.53 362.19,570.13 362.59,568.63 363.09,567.73" fill="#fff" stroke="#1c1c1c" stroke-width="1.1" stroke-linejoin="miter"/>
<polyline points="389.46,574.84 389.86,577.24 393.98,578.7 394.38,577.2 394.88,576.3" fill="#fff" stroke="#1c1c1c" stroke-width="1.1" stroke-linejoin="miter"/>
<polygon points="428.9,586.6 428.9,544.6 441.5,534.1 490.8,547.4 490.8,589.4 478.2,599.9" fill="#fff" stroke="none" stroke-width="0" stroke-linejoin="round" />
<line x1="431.39" y1="543.88" x2="441.85" y2="535.17" stroke="#aaa" stroke-width="0.8" stroke-dasharray="0.8 0.7"/>
<polyline points="428.9,544.6 441.5,534.1" fill="none" stroke="#1c1c1c" stroke-width="1.7" stroke-linejoin="round" />
<polyline points="441.5,534.1 490.8,547.4" fill="none" stroke="#1c1c1c" stroke-width="2.2" stroke-linejoin="round" />
<polyline points="490.8,547.4 490.8,589.4" fill="none" stroke="#1c1c1c" stroke-width="1.5" stroke-linejoin="round" />
<line x1="428.9" y1="544.6" x2="428.9" y2="586.6" stroke="#1c1c1c" stroke-width="2.0" />
<polyline points="475.98,557.6 478.2,557.9 490.8,547.4" fill="none" stroke="#333" stroke-width="1.0" stroke-linejoin="round" />
<line x1="475.49" y1="558.47" x2="490.17" y2="548.82" stroke="#888" stroke-width="0.7" />
<line x1="475.98" y1="557.6" x2="475.98" y2="599.3" stroke="#444" stroke-width="0.85" />
<line x1="478.2" y1="557.9" x2="478.2" y2="599.9" stroke="#333" stroke-width="0.9" />
<polyline points="428.9,586.6 475.98,599.3 478.2,600.2 490.8,589.4" fill="none" stroke="#1c1c1c" stroke-width="1.2" stroke-linejoin="round" />
<line x1="429.24" y1="545.09" x2="432.64" y2="549.21" stroke="#666" stroke-width="1.4" />
<line x1="432.6" y1="546" x2="436" y2="550.12" stroke="#666" stroke-width="1.4" />
<line x1="435.96" y1="546.91" x2="439.36" y2="551.02" stroke="#666" stroke-width="1.4" />
<line x1="439.33" y1="547.81" x2="442.73" y2="551.93" stroke="#666" stroke-width="1.4" />
<line x1="442.69" y1="548.72" x2="446.09" y2="552.84" stroke="#666" stroke-width="1.4" />
<line x1="446.05" y1="549.63" x2="449.45" y2="553.74" stroke="#666" stroke-width="1.4" />
<line x1="449.41" y1="550.53" x2="452.81" y2="554.65" stroke="#666" stroke-width="1.4" />
<line x1="452.78" y1="551.44" x2="456.18" y2="555.56" stroke="#666" stroke-width="1.4" />
<line x1="456.14" y1="552.35" x2="459.54" y2="556.47" stroke="#666" stroke-width="1.4" />
<line x1="459.5" y1="553.26" x2="462.9" y2="557.37" stroke="#666" stroke-width="1.4" />
<line x1="462.87" y1="554.16" x2="466.27" y2="558.28" stroke="#666" stroke-width="1.4" />
<line x1="466.23" y1="555.07" x2="469.63" y2="559.19" stroke="#666" stroke-width="1.4" />
<line x1="469.59" y1="555.98" x2="472.99" y2="560.09" stroke="#666" stroke-width="1.4" />
<line x1="472.95" y1="556.88" x2="475.98" y2="560.55" stroke="#666" stroke-width="1.4" />
<line x1="428.9" y1="548.4" x2="475.98" y2="561.1" stroke="#bbb" stroke-width="0.5" />
<line x1="438.76" y1="550.26" x2="438.76" y2="589.26" stroke="#555" stroke-width="0.8" />
<line x1="450.59" y1="553.45" x2="450.59" y2="592.45" stroke="#555" stroke-width="0.8" />
<line x1="461.44" y1="556.38" x2="461.44" y2="595.38" stroke="#555" stroke-width="0.8" />
<line x1="438.76" y1="559.96" x2="472.28" y2="569" stroke="#444" stroke-width="0.8" />
<line x1="438.76" y1="572.86" x2="472.28" y2="581.9" stroke="#444" stroke-width="0.8" />
<line x1="438.76" y1="585.26" x2="472.28" y2="594.3" stroke="#444" stroke-width="0.8" />
<polyline points="434.57,588.13 434.97,590.53 439.59,592.13 439.99,590.63 440.49,589.73" fill="#fff" stroke="#1c1c1c" stroke-width="1.1" stroke-linejoin="miter"/>
<polyline points="466.86,596.84 467.26,599.24 471.38,600.7 471.78,599.2 472.28,598.3" fill="#fff" stroke="#1c1c1c" stroke-width="1.1" stroke-linejoin="miter"/>
<polygon points="244.3,574.3 244.3,532.3 256.9,521.8 306.2,535.1 306.2,577.1 293.6,587.6" fill="#fff" stroke="none" stroke-width="0" stroke-linejoin="round" />
<line x1="246.79" y1="531.58" x2="257.25" y2="522.87" stroke="#aaa" stroke-width="0.8" stroke-dasharray="0.8 0.7"/>
<polyline points="244.3,532.3 256.9,521.8" fill="none" stroke="#1c1c1c" stroke-width="1.15" stroke-linejoin="round" />
<polyline points="256.9,521.8 306.2,535.1" fill="none" stroke="#1c1c1c" stroke-width="1.35" stroke-linejoin="round" />
<polyline points="306.2,535.1 306.2,577.1" fill="none" stroke="#1c1c1c" stroke-width="1.3" stroke-linejoin="round" />
<line x1="244.3" y1="532.3" x2="244.3" y2="574.3" stroke="#444" stroke-width="1.2" />
<polyline points="291.38,545.3 293.6,545.6 306.2,535.1" fill="none" stroke="#333" stroke-width="1.0" stroke-linejoin="round" />
<line x1="290.89" y1="546.17" x2="305.57" y2="536.52" stroke="#888" stroke-width="0.7" />
<line x1="291.38" y1="545.3" x2="291.38" y2="587" stroke="#444" stroke-width="0.85" />
<line x1="293.6" y1="545.6" x2="293.6" y2="587.6" stroke="#333" stroke-width="0.9" />
<polyline points="244.3,574.3 291.38,587 293.6,587.9 306.2,577.1" fill="none" stroke="#1c1c1c" stroke-width="1.2" stroke-linejoin="round" />
<line x1="244.64" y1="532.79" x2="248.04" y2="536.91" stroke="#666" stroke-width="1.4" />
<line x1="248" y1="533.7" x2="251.4" y2="537.82" stroke="#666" stroke-width="1.4" />
<line x1="251.36" y1="534.61" x2="254.76" y2="538.72" stroke="#666" stroke-width="1.4" />
<line x1="254.73" y1="535.51" x2="258.13" y2="539.63" stroke="#666" stroke-width="1.4" />
<line x1="258.09" y1="536.42" x2="261.49" y2="540.54" stroke="#666" stroke-width="1.4" />
<line x1="261.45" y1="537.33" x2="264.85" y2="541.44" stroke="#666" stroke-width="1.4" />
<line x1="264.81" y1="538.23" x2="268.21" y2="542.35" stroke="#666" stroke-width="1.4" />
<line x1="268.18" y1="539.14" x2="271.58" y2="543.26" stroke="#666" stroke-width="1.4" />
<line x1="271.54" y1="540.05" x2="274.94" y2="544.17" stroke="#666" stroke-width="1.4" />
<line x1="274.9" y1="540.96" x2="278.3" y2="545.07" stroke="#666" stroke-width="1.4" />
<line x1="278.27" y1="541.86" x2="281.67" y2="545.98" stroke="#666" stroke-width="1.4" />
<line x1="281.63" y1="542.77" x2="285.03" y2="546.89" stroke="#666" stroke-width="1.4" />
<line x1="284.99" y1="543.68" x2="288.39" y2="547.79" stroke="#666" stroke-width="1.4" />
<line x1="288.35" y1="544.58" x2="291.38" y2="548.25" stroke="#666" stroke-width="1.4" />
<line x1="244.3" y1="536.1" x2="291.38" y2="548.8" stroke="#bbb" stroke-width="0.5" />
<line x1="278.81" y1="544.61" x2="278.81" y2="583.61" stroke="#555" stroke-width="0.8" />
<line x1="280.39" y1="545.04" x2="280.39" y2="584.04" stroke="#555" stroke-width="0.8" />
<line x1="280.39" y1="582.54" x2="291.38" y2="585.5" stroke="#777" stroke-width="0.7" />
<g transform="matrix(1,0.2698,0,1.18,261.8,559.32)"><circle r="14.3" fill="#ececec" stroke="#3a3a3a" stroke-width="0.85"/><path d="M3.04,0.62 Q7.81,1.75 14,-1.69" fill="none" stroke="#444" stroke-width="0.72"/><path d="M2.22,2.16 Q5.62,5.69 12.69,6.15" fill="none" stroke="#444" stroke-width="0.72"/><path d="M0.7,3.02 Q1.66,7.83 7.35,12.03" fill="none" stroke="#444" stroke-width="0.72"/><path d="M-1.04,2.92 Q-2.84,7.48 -0.32,14.1" fill="none" stroke="#444" stroke-width="0.72"/><path d="M-2.46,1.89 Q-6.43,4.76 -7.89,11.68" fill="none" stroke="#444" stroke-width="0.72"/><path d="M-3.09,0.27 Q-7.98,0.52 -12.96,5.56" fill="none" stroke="#444" stroke-width="0.72"/><path d="M-2.74,-1.45 Q-7,-3.87 -13.91,-2.32" fill="none" stroke="#444" stroke-width="0.72"/><path d="M-1.52,-2.7 Q-3.79,-7.04 -10.44,-9.47" fill="none" stroke="#444" stroke-width="0.72"/><path d="M0.18,-3.09 Q0.62,-7.98 -3.66,-13.62" fill="none" stroke="#444" stroke-width="0.72"/><path d="M1.82,-2.51 Q4.83,-6.38 4.28,-13.43" fill="none" stroke="#444" stroke-width="0.72"/><path d="M2.89,-1.12 Q7.51,-2.75 10.86,-8.99" fill="none" stroke="#444" stroke-width="0.72"/><circle r="3.1" fill="#ececec" stroke="#3a3a3a" stroke-width="0.8"/></g>
<polygon points="296.94,549.72 303.05,544.62 303.05,555.72 296.94,560.82" fill="none" stroke="#444" stroke-width="0.9" stroke-linejoin="round" />
<line x1="298.14" y1="549.62" x2="298.89" y2="551.19" stroke="#666" stroke-width="0.7" />
<line x1="299.65" y1="548.36" x2="300.4" y2="549.93" stroke="#666" stroke-width="0.7" />
<line x1="301.16" y1="547.1" x2="301.92" y2="548.67" stroke="#666" stroke-width="0.7" />
<polygon points="299.77,564.85 304.06,561.28 304.06,575.18 299.77,578.75" fill="none" stroke="#444" stroke-width="0.9" stroke-linejoin="round" />
<polyline points="249.97,575.83 250.37,578.23 254.99,579.83 255.39,578.33 255.89,577.43" fill="#fff" stroke="#1c1c1c" stroke-width="1.1" stroke-linejoin="miter"/>
<polyline points="282.26,584.54 282.66,586.94 286.78,588.4 287.18,586.9 287.68,586" fill="#fff" stroke="#1c1c1c" stroke-width="1.1" stroke-linejoin="miter"/>
<polygon points="315.7,594.4 315.7,552.4 328.3,541.9 377.6,555.2 377.6,597.2 365,607.7" fill="#fff" stroke="none" stroke-width="0" stroke-linejoin="round" />
<line x1="318.19" y1="551.68" x2="328.65" y2="542.97" stroke="#aaa" stroke-width="0.8" stroke-dasharray="0.8 0.7"/>
<polyline points="315.7,552.4 328.3,541.9" fill="none" stroke="#1c1c1c" stroke-width="1.15" stroke-linejoin="round" />
<polyline points="328.3,541.9 377.6,555.2" fill="none" stroke="#1c1c1c" stroke-width="1.35" stroke-linejoin="round" />
<polyline points="377.6,555.2 377.6,597.2" fill="none" stroke="#1c1c1c" stroke-width="1.3" stroke-linejoin="round" />
<line x1="315.7" y1="552.4" x2="315.7" y2="594.4" stroke="#444" stroke-width="1.2" />
<polyline points="362.78,565.4 365,565.7 377.6,555.2" fill="none" stroke="#333" stroke-width="1.0" stroke-linejoin="round" />
<line x1="362.29" y1="566.27" x2="376.97" y2="556.62" stroke="#888" stroke-width="0.7" />
<line x1="362.78" y1="565.4" x2="362.78" y2="607.1" stroke="#444" stroke-width="0.85" />
<line x1="365" y1="565.7" x2="365" y2="607.7" stroke="#333" stroke-width="0.9" />
<polyline points="315.7,594.4 362.78,607.1 365,608 377.6,597.2" fill="none" stroke="#1c1c1c" stroke-width="1.2" stroke-linejoin="round" />
<line x1="316.04" y1="552.89" x2="319.44" y2="557.01" stroke="#666" stroke-width="1.4" />
<line x1="319.4" y1="553.8" x2="322.8" y2="557.92" stroke="#666" stroke-width="1.4" />
<line x1="322.76" y1="554.71" x2="326.16" y2="558.82" stroke="#666" stroke-width="1.4" />
<line x1="326.13" y1="555.61" x2="329.53" y2="559.73" stroke="#666" stroke-width="1.4" />
<line x1="329.49" y1="556.52" x2="332.89" y2="560.64" stroke="#666" stroke-width="1.4" />
<line x1="332.85" y1="557.43" x2="336.25" y2="561.54" stroke="#666" stroke-width="1.4" />
<line x1="336.21" y1="558.33" x2="339.61" y2="562.45" stroke="#666" stroke-width="1.4" />
<line x1="339.58" y1="559.24" x2="342.98" y2="563.36" stroke="#666" stroke-width="1.4" />
<line x1="342.94" y1="560.15" x2="346.34" y2="564.27" stroke="#666" stroke-width="1.4" />
<line x1="346.3" y1="561.06" x2="349.7" y2="565.17" stroke="#666" stroke-width="1.4" />
<line x1="349.67" y1="561.96" x2="353.07" y2="566.08" stroke="#666" stroke-width="1.4" />
<line x1="353.03" y1="562.87" x2="356.43" y2="566.99" stroke="#666" stroke-width="1.4" />
<line x1="356.39" y1="563.78" x2="359.79" y2="567.89" stroke="#666" stroke-width="1.4" />
<line x1="359.75" y1="564.68" x2="362.78" y2="568.35" stroke="#666" stroke-width="1.4" />
<line x1="315.7" y1="556.2" x2="362.78" y2="568.9" stroke="#bbb" stroke-width="0.5" />
<line x1="350.21" y1="564.71" x2="350.21" y2="603.71" stroke="#555" stroke-width="0.8" />
<line x1="351.79" y1="565.14" x2="351.79" y2="604.14" stroke="#555" stroke-width="0.8" />
<line x1="351.79" y1="602.64" x2="362.78" y2="605.6" stroke="#777" stroke-width="0.7" />
<g transform="matrix(1,0.2698,0,1.18,333.2,579.42)"><circle r="14.3" fill="#ececec" stroke="#3a3a3a" stroke-width="0.85"/><path d="M3.04,0.62 Q7.81,1.75 14,-1.69" fill="none" stroke="#444" stroke-width="0.72"/><path d="M2.22,2.16 Q5.62,5.69 12.69,6.15" fill="none" stroke="#444" stroke-width="0.72"/><path d="M0.7,3.02 Q1.66,7.83 7.35,12.03" fill="none" stroke="#444" stroke-width="0.72"/><path d="M-1.04,2.92 Q-2.84,7.48 -0.32,14.1" fill="none" stroke="#444" stroke-width="0.72"/><path d="M-2.46,1.89 Q-6.43,4.76 -7.89,11.68" fill="none" stroke="#444" stroke-width="0.72"/><path d="M-3.09,0.27 Q-7.98,0.52 -12.96,5.56" fill="none" stroke="#444" stroke-width="0.72"/><path d="M-2.74,-1.45 Q-7,-3.87 -13.91,-2.32" fill="none" stroke="#444" stroke-width="0.72"/><path d="M-1.52,-2.7 Q-3.79,-7.04 -10.44,-9.47" fill="none" stroke="#444" stroke-width="0.72"/><path d="M0.18,-3.09 Q0.62,-7.98 -3.66,-13.62" fill="none" stroke="#444" stroke-width="0.72"/><path d="M1.82,-2.51 Q4.83,-6.38 4.28,-13.43" fill="none" stroke="#444" stroke-width="0.72"/><path d="M2.89,-1.12 Q7.51,-2.75 10.86,-8.99" fill="none" stroke="#444" stroke-width="0.72"/><circle r="3.1" fill="#ececec" stroke="#3a3a3a" stroke-width="0.8"/></g>
<polygon points="368.34,569.82 374.45,564.72 374.45,575.82 368.34,580.92" fill="none" stroke="#444" stroke-width="0.9" stroke-linejoin="round" />
<line x1="369.54" y1="569.72" x2="370.29" y2="571.29" stroke="#666" stroke-width="0.7" />
<line x1="371.05" y1="568.46" x2="371.8" y2="570.03" stroke="#666" stroke-width="0.7" />
<line x1="372.56" y1="567.2" x2="373.32" y2="568.77" stroke="#666" stroke-width="0.7" />
<polygon points="371.17,584.95 375.46,581.38 375.46,595.28 371.17,598.85" fill="none" stroke="#444" stroke-width="0.9" stroke-linejoin="round" />
<polyline points="321.37,595.93 321.77,598.33 326.39,599.93 326.79,598.43 327.29,597.53" fill="#fff" stroke="#1c1c1c" stroke-width="1.1" stroke-linejoin="miter"/>
<polyline points="353.66,604.64 354.06,607.04 358.18,608.5 358.58,607 359.08,606.1" fill="#fff" stroke="#1c1c1c" stroke-width="1.1" stroke-linejoin="miter"/>
<polygon points="393.4,617.1 393.4,575.1 406,564.6 455.3,577.9 455.3,619.9 442.7,630.4" fill="#fff" stroke="none" stroke-width="0" stroke-linejoin="round" />
<line x1="395.89" y1="574.38" x2="406.35" y2="565.67" stroke="#aaa" stroke-width="0.8" stroke-dasharray="0.8 0.7"/>
<polyline points="393.4,575.1 406,564.6" fill="none" stroke="#1c1c1c" stroke-width="1.15" stroke-linejoin="round" />
<polyline points="406,564.6 455.3,577.9" fill="none" stroke="#1c1c1c" stroke-width="1.35" stroke-linejoin="round" />
<polyline points="455.3,577.9 455.3,619.9" fill="none" stroke="#1c1c1c" stroke-width="1.3" stroke-linejoin="round" />
<line x1="393.4" y1="575.1" x2="393.4" y2="617.1" stroke="#444" stroke-width="1.2" />
<polyline points="440.48,588.1 442.7,588.4 455.3,577.9" fill="none" stroke="#333" stroke-width="1.0" stroke-linejoin="round" />
<line x1="439.99" y1="588.97" x2="454.67" y2="579.32" stroke="#888" stroke-width="0.7" />
<line x1="440.48" y1="588.1" x2="440.48" y2="629.8" stroke="#444" stroke-width="0.85" />
<line x1="442.7" y1="588.4" x2="442.7" y2="630.4" stroke="#333" stroke-width="0.9" />
<polyline points="393.4,617.1 440.48,629.8 442.7,630.7 455.3,619.9" fill="none" stroke="#1c1c1c" stroke-width="1.2" stroke-linejoin="round" />
<line x1="393.74" y1="575.59" x2="397.14" y2="579.71" stroke="#666" stroke-width="1.4" />
<line x1="397.1" y1="576.5" x2="400.5" y2="580.62" stroke="#666" stroke-width="1.4" />
<line x1="400.46" y1="577.41" x2="403.86" y2="581.52" stroke="#666" stroke-width="1.4" />
<line x1="403.83" y1="578.31" x2="407.23" y2="582.43" stroke="#666" stroke-width="1.4" />
<line x1="407.19" y1="579.22" x2="410.59" y2="583.34" stroke="#666" stroke-width="1.4" />
<line x1="410.55" y1="580.13" x2="413.95" y2="584.24" stroke="#666" stroke-width="1.4" />
<line x1="413.91" y1="581.03" x2="417.31" y2="585.15" stroke="#666" stroke-width="1.4" />
<line x1="417.28" y1="581.94" x2="420.68" y2="586.06" stroke="#666" stroke-width="1.4" />
<line x1="420.64" y1="582.85" x2="424.04" y2="586.97" stroke="#666" stroke-width="1.4" />
<line x1="424" y1="583.76" x2="427.4" y2="587.87" stroke="#666" stroke-width="1.4" />
<line x1="427.37" y1="584.66" x2="430.77" y2="588.78" stroke="#666" stroke-width="1.4" />
<line x1="430.73" y1="585.57" x2="434.13" y2="589.69" stroke="#666" stroke-width="1.4" />
<line x1="434.09" y1="586.48" x2="437.49" y2="590.59" stroke="#666" stroke-width="1.4" />
<line x1="437.45" y1="587.38" x2="440.48" y2="591.05" stroke="#666" stroke-width="1.4" />
<line x1="393.4" y1="578.9" x2="440.48" y2="591.6" stroke="#bbb" stroke-width="0.5" />
<line x1="427.91" y1="587.41" x2="427.91" y2="626.41" stroke="#555" stroke-width="0.8" />
<line x1="429.49" y1="587.84" x2="429.49" y2="626.84" stroke="#555" stroke-width="0.8" />
<line x1="429.49" y1="625.34" x2="440.48" y2="628.3" stroke="#777" stroke-width="0.7" />
<g transform="matrix(1,0.2698,0,1.18,410.9,602.12)"><circle r="14.3" fill="#ececec" stroke="#3a3a3a" stroke-width="0.85"/><path d="M3.04,0.62 Q7.81,1.75 14,-1.69" fill="none" stroke="#444" stroke-width="0.72"/><path d="M2.22,2.16 Q5.62,5.69 12.69,6.15" fill="none" stroke="#444" stroke-width="0.72"/><path d="M0.7,3.02 Q1.66,7.83 7.35,12.03" fill="none" stroke="#444" stroke-width="0.72"/><path d="M-1.04,2.92 Q-2.84,7.48 -0.32,14.1" fill="none" stroke="#444" stroke-width="0.72"/><path d="M-2.46,1.89 Q-6.43,4.76 -7.89,11.68" fill="none" stroke="#444" stroke-width="0.72"/><path d="M-3.09,0.27 Q-7.98,0.52 -12.96,5.56" fill="none" stroke="#444" stroke-width="0.72"/><path d="M-2.74,-1.45 Q-7,-3.87 -13.91,-2.32" fill="none" stroke="#444" stroke-width="0.72"/><path d="M-1.52,-2.7 Q-3.79,-7.04 -10.44,-9.47" fill="none" stroke="#444" stroke-width="0.72"/><path d="M0.18,-3.09 Q0.62,-7.98 -3.66,-13.62" fill="none" stroke="#444" stroke-width="0.72"/><path d="M1.82,-2.51 Q4.83,-6.38 4.28,-13.43" fill="none" stroke="#444" stroke-width="0.72"/><path d="M2.89,-1.12 Q7.51,-2.75 10.86,-8.99" fill="none" stroke="#444" stroke-width="0.72"/><circle r="3.1" fill="#ececec" stroke="#3a3a3a" stroke-width="0.8"/></g>
<polygon points="446.04,592.52 452.15,587.42 452.15,598.52 446.04,603.62" fill="none" stroke="#444" stroke-width="0.9" stroke-linejoin="round" />
<line x1="447.24" y1="592.42" x2="447.99" y2="593.99" stroke="#666" stroke-width="0.7" />
<line x1="448.75" y1="591.16" x2="449.5" y2="592.73" stroke="#666" stroke-width="0.7" />
<line x1="450.26" y1="589.9" x2="451.02" y2="591.47" stroke="#666" stroke-width="0.7" />
<polygon points="448.87,607.65 453.16,604.08 453.16,617.98 448.87,621.55" fill="none" stroke="#444" stroke-width="0.9" stroke-linejoin="round" />
<polyline points="399.07,618.63 399.47,621.03 404.09,622.63 404.49,621.13 404.99,620.23" fill="#fff" stroke="#1c1c1c" stroke-width="1.1" stroke-linejoin="miter"/>
<polyline points="431.36,627.34 431.76,629.74 435.88,631.2 436.28,629.7 436.78,628.8" fill="#fff" stroke="#1c1c1c" stroke-width="1.1" stroke-linejoin="miter"/>
<line x1="345.9" y1="442.8" x2="345.9" y2="481" stroke="#707070" stroke-width="1.0" />
<polygon points="345.9,442.6 348.7,452.1 343.1,452.1" fill="#1c1c1c"/>
<polygon points="345.9,481.6 343.1,472.1 348.7,472.1" fill="#1c1c1c"/>
<line x1="345" y1="441.6" x2="352.5" y2="439.8" stroke="#1c1c1c" stroke-width="0.9" />
<line x1="345" y1="483.8" x2="352.3" y2="482" stroke="#1c1c1c" stroke-width="0.9" />
<text x="333.05" y="466.8" font-size="14.0" text-anchor="start" fill="#1c1c1c">H</text>
<text x="353.75" y="501.8" font-size="14.0" text-anchor="start" fill="#1c1c1c">≥400</text>
<text x="426.45" y="522.8" font-size="14.0" text-anchor="start" fill="#1c1c1c">≥400</text>
<text x="537.65" y="579.9" font-size="14.0" text-anchor="start" fill="#1c1c1c">≥4500</text>
<text x="487.95" y="622.8" font-size="14.0" text-anchor="start" fill="#1c1c1c">≥600</text>
<text x="439.15" y="666.8" font-size="14.0" text-anchor="start" fill="#1c1c1c">≥2000</text>
<text x="607.85" y="515.8" font-size="13.6" text-anchor="start" fill="#1c1c1c">H</text>
<text x="617.7" y="515.8" font-size="6.6" text-anchor="start" fill="#1c1c1c">b</text>
<text x="587.4" y="530.8" font-size="12.4" text-anchor="start" fill="#1c1c1c">b</text>
<line x1="604.5" y1="478.2" x2="604.5" y2="543.5" stroke="#707070" stroke-width="1.0" />
<polygon points="604.6,498.9 601.7,488.9 607.5,488.9" fill="#1c1c1c"/>
<polygon points="604.6,523.3 607.5,533.3 601.7,533.3" fill="#1c1c1c"/>
<line x1="580.5" y1="492.2" x2="610.5" y2="501.1" stroke="#1c1c1c" stroke-width="0.9" />
<line x1="580.5" y1="515.5" x2="610" y2="523.5" stroke="#1c1c1c" stroke-width="0.9" />
<line x1="565.5" y1="538.8" x2="599.9" y2="508.3" stroke="#1c1c1c" stroke-width="0.9" />
<polygon points="589.4,517.2 595.15,508.52 598.9,512.95" fill="#1c1c1c"/>
<polygon points="577.2,529.4 571.22,537.92 567.59,533.4" fill="#1c1c1c"/>
<line x1="563.9" y1="525.5" x2="579.4" y2="530.5" stroke="#1c1c1c" stroke-width="0.9" />
<line x1="561.1" y1="543.7" x2="504.2" y2="592" stroke="#1c1c1c" stroke-width="0.9" />
<polygon points="561.1,543.7 555.35,552.38 551.6,547.96" fill="#1c1c1c"/>
<polygon points="504.2,592 509.95,583.32 513.7,587.74" fill="#1c1c1c"/>
<line x1="550.8" y1="538.5" x2="564.6" y2="541.9" stroke="#1c1c1c" stroke-width="0.9" />
<line x1="492.1" y1="590.3" x2="505.9" y2="594.6" stroke="#1c1c1c" stroke-width="0.9" />
<line x1="470.6" y1="623.8" x2="489.1" y2="605" stroke="#1c1c1c" stroke-width="0.9" />
<polygon points="470.6,623.8 475.55,614.64 479.68,618.71" fill="#1c1c1c"/>
<polygon points="489.1,605 484.15,614.16 480.02,610.09" fill="#1c1c1c"/>
<line x1="457.3" y1="620.3" x2="470.6" y2="624" stroke="#1c1c1c" stroke-width="0.9" />
<line x1="478.4" y1="600.8" x2="491.2" y2="604.6" stroke="#1c1c1c" stroke-width="0.9" />
<line x1="403.3" y1="682.5" x2="455.8" y2="635.9" stroke="#1c1c1c" stroke-width="0.9" />
<polygon points="403.3,682.5 408.85,673.69 412.7,678.03" fill="#1c1c1c"/>
<polygon points="455.8,635.9 450.25,644.71 446.4,640.37" fill="#1c1c1c"/>
<line x1="390.7" y1="678.8" x2="405.5" y2="683.2" stroke="#1c1c1c" stroke-width="0.9" />
<line x1="444" y1="632.2" x2="458.8" y2="635.6" stroke="#1c1c1c" stroke-width="0.9" />
<line x1="328.7" y1="497.4" x2="342" y2="501.12" stroke="#1c1c1c" stroke-width="0.9" stroke-dasharray="4 1.3"/>
<line x1="349" y1="503.08" x2="369.4" y2="508.78" stroke="#1c1c1c" stroke-width="0.9" stroke-dasharray="4 1.3"/>
<line x1="377" y1="510.91" x2="386.5" y2="513.57" stroke="#1c1c1c" stroke-width="0.9" stroke-dasharray="4 1.3"/>
<line x1="392.5" y1="515.24" x2="410" y2="520.14" stroke="#1c1c1c" stroke-width="0.9" stroke-dasharray="4 1.3"/>
<line x1="417.3" y1="522.18" x2="443.8" y2="529.59" stroke="#1c1c1c" stroke-width="0.9" stroke-dasharray="4 1.3"/>
<line x1="453" y1="532.17" x2="471" y2="537.2" stroke="#1c1c1c" stroke-width="0.9" stroke-dasharray="4 1.3"/>
<polygon points="349,502.4 338.59,502.51 340.15,496.92" fill="#1c1c1c"/>
<polygon points="369.4,508 379.81,507.92 378.24,513.5" fill="#1c1c1c"/>
<polygon points="417.3,521.6 406.89,521.72 408.44,516.13" fill="#1c1c1c"/>
<polygon points="443.8,529.6 454.21,529.49 452.66,535.07" fill="#1c1c1c"/>
<line x1="342.6" y1="506.2" x2="350" y2="500" stroke="#1c1c1c" stroke-width="0.9" />
<line x1="364.8" y1="512.2" x2="370.5" y2="506.6" stroke="#1c1c1c" stroke-width="0.9" />
<line x1="413.8" y1="522.4" x2="421.2" y2="517.2" stroke="#1c1c1c" stroke-width="0.9" />
<line x1="443.4" y1="534.4" x2="450.8" y2="526.5" stroke="#1c1c1c" stroke-width="0.9" />
</svg>
<table>
<tr style="background:#d9d9d9"><td style="width:320px;height:27.5px"></td><td style="width:363px"></td></tr>
<tr><td style="height:28.5px"></td><td></td></tr>
<tr><td style="height:28px"></td><td></td></tr>
<tr><td style="height:29.5px"></td><td></td></tr>
</table>
</body></html>
